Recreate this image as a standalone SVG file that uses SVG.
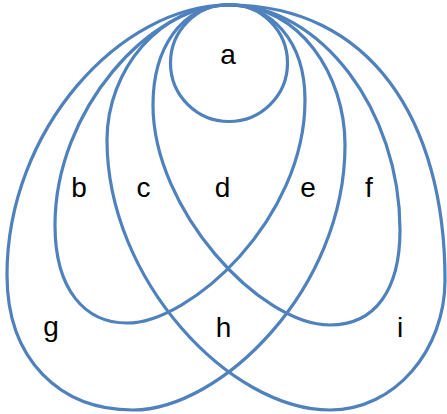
<svg xmlns="http://www.w3.org/2000/svg" width="447" height="414" viewBox="0 0 447 414">
<style>
.ln{fill:none;stroke:#4f81bd;stroke-width:3.2}
.lb{font-family:"Liberation Sans","Open Sans",sans-serif;font-size:28px;fill:#000;text-anchor:middle}
</style>
<rect width="447" height="414" fill="#fff"/>
<g id="connectors">
<path id="loop-g" class="ln" d="M229,5 C120,5 7,130 7,275 C7,360 60,410 133,410 C220,410 345,290 345,145 C345,75 300,5 229,5 Z"/>
<path id="loop-b" class="ln" d="M229,5 C150,5 55,110 55,225 C55,290 85,323 127,323 C190,323 305,220 305,100 C305,40 270,5 229,5 Z"/>
<path id="loop-e" class="ln" d="M229,5 C180,5 153,50 153,105 C153,210 260,325 330,325 C375,325 400,290 400,230 C400,110 320,5 229,5 Z"/>
<path id="loop-i" class="ln" d="M229,5 C160,5 107,70 107,140 C107,280 230,410 330,410 C395,410 445,350 445,280 C445,120 370,5 229,5 Z"/>
</g>
<g id="node-a"><circle class="ln" cx="229" cy="63" r="58.5"/><text class="lb" x="228" y="64">a</text></g>
<g id="node-b"><text class="lb" x="79" y="197">b</text></g>
<g id="node-c"><text class="lb" x="143.5" y="197">c</text></g>
<g id="node-d"><text class="lb" x="222.5" y="197">d</text></g>
<g id="node-e"><text class="lb" x="308" y="197">e</text></g>
<g id="node-f"><text class="lb" x="369" y="197">f</text></g>
<g id="node-g"><text class="lb" x="51" y="336">g</text></g>
<g id="node-h"><text class="lb" x="223.5" y="337">h</text></g>
<g id="node-i"><text class="lb" x="400" y="337">i</text></g>
</svg>
